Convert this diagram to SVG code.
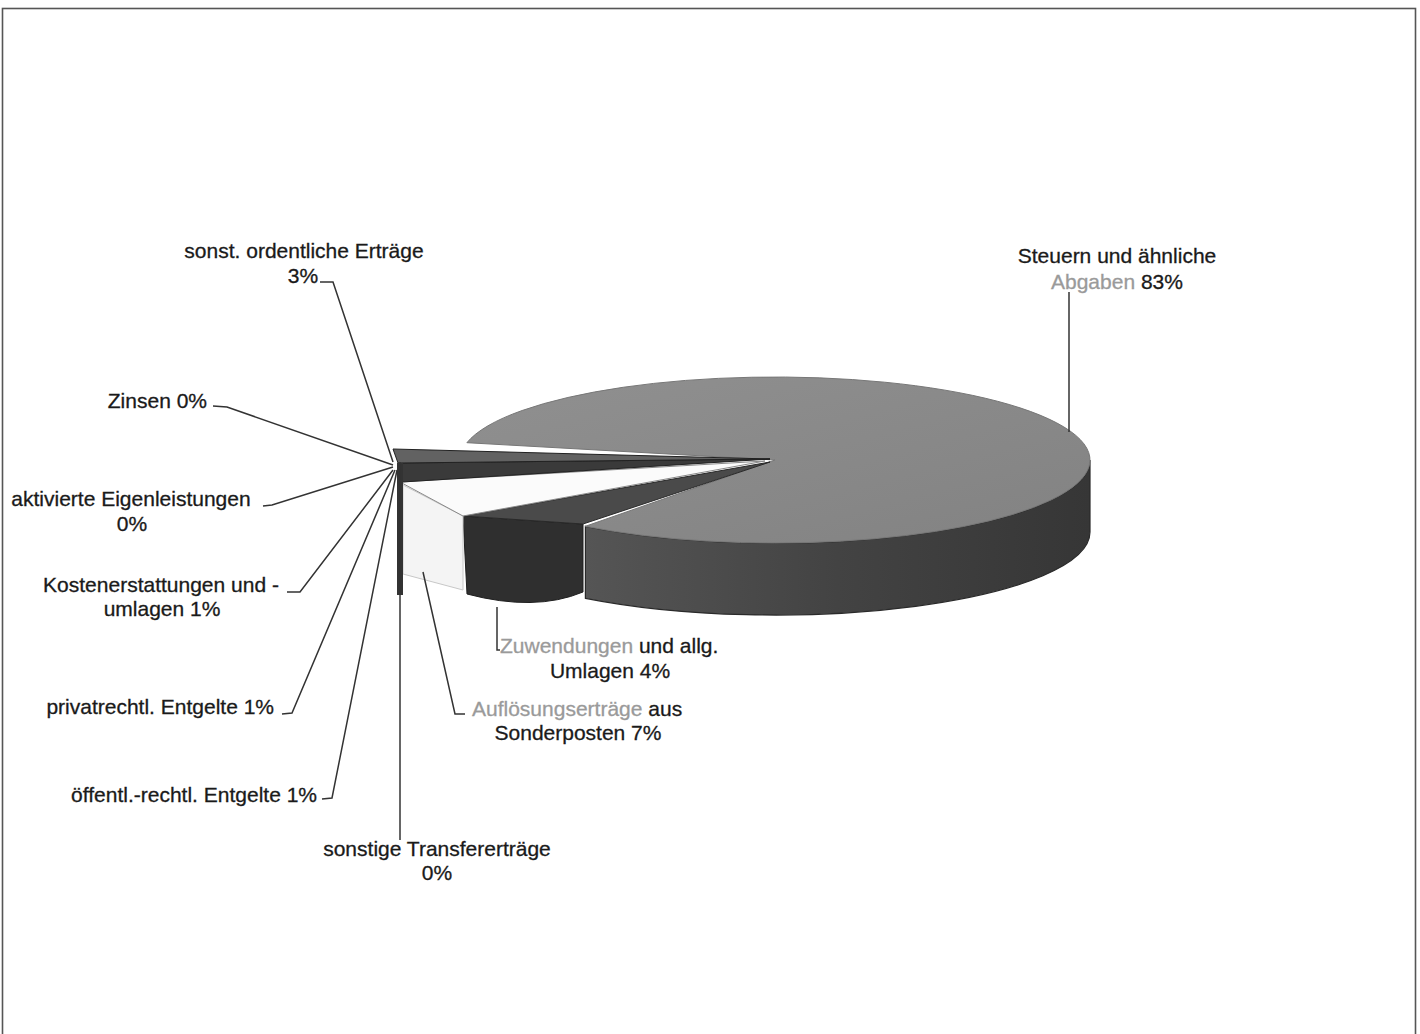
<svg xmlns="http://www.w3.org/2000/svg" width="1420" height="1034" viewBox="0 0 1420 1034">
<style>
.lbl{font-family:"Liberation Sans",Arial,sans-serif;font-size:21px;fill:#1a1a1a;stroke:#1a1a1a;stroke-width:0.3}
.fade{fill:#9a9a9a;stroke:#9a9a9a}
.ld{fill:none;stroke:#333;stroke-width:1.5}
</style>
<defs>
<linearGradient id="topG" x1="0" y1="0" x2="1" y2="1">
<stop offset="0" stop-color="#909090"/>
<stop offset="1" stop-color="#828282"/>
</linearGradient>
<linearGradient id="sideG" x1="0" y1="0" x2="1" y2="0">
<stop offset="0" stop-color="#555"/>
<stop offset="0.5" stop-color="#434343"/>
<stop offset="1" stop-color="#363636"/>
</linearGradient>
</defs>
<rect x="0" y="0" width="1420" height="1034" fill="#fff"/>
<rect x="2.5" y="8.5" width="1413" height="1040" fill="none" stroke="#555" stroke-width="1.6"/>

<g id="slice-steuern">
<path d="M1090,460 A315,83 0 0,1 585.4,526.3 L585.4,598.3 A315,83 0 0,0 1090,532 Z" fill="url(#sideG)" stroke="#2a2a2a" stroke-width="1.2"/>
<path d="M775,460 L466.9,442.7 A315,83 0 1,1 585.4,526.3 Z" fill="url(#topG)" stroke="#777" stroke-width="1"/>
</g>

<g id="slice-zuwendungen">
<path d="M463,516 L583,524 L583,592 Q535,612 467,594 Z" fill="#2f2f2f" stroke="#1e1e1e" stroke-width="1"/>
<polygon points="770,462 463,516 583,524" fill="#4a4a4a" stroke="#2a2a2a" stroke-width="1"/>
</g>

<g id="slice-aufloesung">
<polygon points="403,485 463,516 463,590 403,574" fill="#f4f4f4" stroke="#c8c8c8" stroke-width="1"/>
<polygon points="400,482 765,461 463,516" fill="#fbfbfb" stroke="#888" stroke-width="1"/>
</g>

<g id="slice-sonst-ordentlich">
<polygon points="398,463 770,459 402,482 398,480" fill="#3a3a3a" stroke="#222" stroke-width="1"/>
<polygon points="393,449 770,459 398,463" fill="#626262" stroke="#222" stroke-width="1"/>
</g>

<g id="slice-small">
<rect x="397" y="463" width="6" height="132" fill="#333"/>
</g>

<g id="connectors">
<path class="ld" d="M320,282 L333,282 L393,462"/>
<path class="ld" d="M213,406 L227,407 L393,465"/>
<path class="ld" d="M263,506 L272,505 L393,467"/>
<path class="ld" d="M287,592 L300,592 L393,470"/>
<path class="ld" d="M282,714 L292,713 L395,470"/>
<path class="ld" d="M322,799 L332,798 L397,470"/>
<path class="ld" d="M400,840 L400,462"/>
<path class="ld" d="M423,572 L455,714 L465,714"/>
<path class="ld" d="M497,607 L497,650 L500,650"/>
<path class="ld" d="M1069,432 L1069,292"/>
</g>

<g id="label-sonst-ordentlich">
<text class="lbl" x="304" y="258" text-anchor="middle">sonst. ordentliche Erträge</text>
<text class="lbl" x="303" y="283" text-anchor="middle">3%</text>
</g>
<g id="label-zinsen">
<text class="lbl" x="207" y="408" text-anchor="end">Zinsen 0%</text>
</g>
<g id="label-aktivierte">
<text class="lbl" x="131" y="506" text-anchor="middle">aktivierte Eigenleistungen</text>
<text class="lbl" x="132" y="531" text-anchor="middle">0%</text>
</g>
<g id="label-kosten">
<text class="lbl" x="161" y="592" text-anchor="middle">Kostenerstattungen und -</text>
<text class="lbl" x="162" y="616" text-anchor="middle">umlagen 1%</text>
</g>
<g id="label-privat">
<text class="lbl" x="274" y="714" text-anchor="end">privatrechtl. Entgelte 1%</text>
</g>
<g id="label-oeffentl">
<text class="lbl" x="317" y="802" text-anchor="end">öffentl.-rechtl. Entgelte 1%</text>
</g>
<g id="label-transfer">
<text class="lbl" x="437" y="856" text-anchor="middle">sonstige Transfererträge</text>
<text class="lbl" x="437" y="880" text-anchor="middle">0%</text>
</g>
<g id="label-aufloesung">
<text class="lbl" x="472" y="716"><tspan class="fade">Auflösungserträge</tspan> aus</text>
<text class="lbl" x="578" y="740" text-anchor="middle">Sonderposten 7%</text>
</g>
<g id="label-zuwendungen">
<text class="lbl" x="500" y="653"><tspan class="fade">Zuwendungen</tspan> und allg.</text>
<text class="lbl" x="610" y="678" text-anchor="middle">Umlagen 4%</text>
</g>
<g id="label-steuern">
<text class="lbl" x="1117" y="263" text-anchor="middle">Steuern und ähnliche</text>
<text class="lbl" x="1051" y="289"><tspan class="fade">Abgaben</tspan> 83%</text>
</g>
</svg>
